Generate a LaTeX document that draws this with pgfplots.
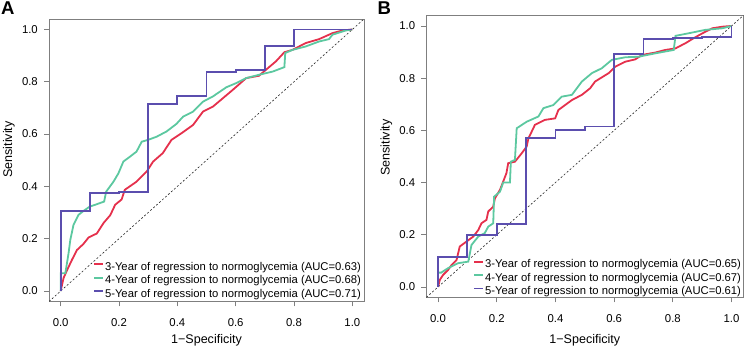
\documentclass[border=0pt]{standalone}
\usepackage{fontspec}
\setmainfont{Liberation Sans}
\usepackage{pgfplots}
\pgfplotsset{compat=1.18}

\definecolor{rocred}{HTML}{E5304C}
\definecolor{rocgreen}{HTML}{5CC8A0}
\definecolor{rocpurple}{HTML}{5B4EAE}
\definecolor{framegray}{HTML}{7F7F7F}

\pgfplotsset{
  rocpanel/.style={
    scale only axis,
    xmin=-0.04, xmax=1.04, ymin=-0.04, ymax=1.04,
    xtick={0,0.2,0.4,0.6,0.8,1}, ytick={0,0.2,0.4,0.6,0.8,1},
    xtick pos=lower, ytick pos=left,
    tick align=outside,
    major tick length=5bp,
    axis line style={framegray, line width=0.8bp},
    tick style={framegray, line width=0.8bp},
    xticklabel={\pgfmathprintnumber[fixed, fixed zerofill, precision=1, assume math mode=true]{\tick}},
    yticklabel={\pgfmathprintnumber[fixed, fixed zerofill, precision=1, assume math mode=true]{\tick}},
    ticklabel style={font=\fontsize{11.4}{13}\selectfont},
    xticklabel style={anchor=north, inner sep=0pt},
    yticklabel style={anchor=east, inner sep=0pt},
    xticklabel shift=11.5bp,
    yticklabel shift=6bp,
    legend cell align=left,
    legend style={draw=none, fill=none, inner sep=0pt, row sep=2.9bp,
      font=\fontsize{11.3}{13}\selectfont,
      nodes={inner xsep=1.5bp, inner ysep=0pt, text height=8bp, text depth=2.5bp}},
    legend image code/.code={\draw[#1, line width=1.8bp] (0bp,3.2bp) -- (8.5bp,3.2bp);},
  },
  roc/.style={line width=1.8bp, line join=miter},
  rocstep/.style={const plot mark right, line width=1.8bp},
}

\begin{document}
\begin{tikzpicture}
\useasboundingbox (0,0) rectangle (744bp,347bp);

% ---------------- Panel A ----------------
\begin{axis}[rocpanel,
  at={(49bp,45.5bp)}, anchor=south west,
  width=315bp, height=282.5bp,
  legend style={at={(axis description cs:0.1397,0.1398)}, anchor=north west}]
\addplot[black!85, line width=0.6bp, dash pattern=on 2bp off 2bp, forget plot]
  coordinates {(-0.04,-0.04) (1.04,1.04)};
\addplot[rocred, roc] table {
0 0
0.010 0.050
0.022 0.080
0.039 0.120
0.056 0.157
0.078 0.180
0.096 0.205
0.124 0.220
0.147 0.260
0.170 0.290
0.187 0.330
0.209 0.350
0.220 0.387
0.260 0.418
0.295 0.457
0.317 0.495
0.350 0.527
0.380 0.578
0.414 0.603
0.454 0.635
0.488 0.686
0.522 0.705
0.556 0.737
0.590 0.769
0.636 0.814
0.680 0.823
0.704 0.846
0.738 0.878
0.767 0.913
0.795 0.922
0.840 0.948
0.886 0.963
0.932 0.986
0.966 0.996
1 1
};
\addlegendentry{3-Year of regression to normoglycemia (AUC=0.63)}
\addplot[rocgreen, roc] table {
0 0
0 0.068
0.016 0.068
0.027 0.144
0.033 0.195
0.044 0.253
0.061 0.291
0.078 0.306
0.100 0.323
0.124 0.332
0.149 0.342
0.156 0.380
0.181 0.418
0.198 0.450
0.215 0.495
0.238 0.514
0.260 0.533
0.278 0.571
0.300 0.578
0.329 0.590
0.363 0.610
0.397 0.639
0.420 0.667
0.454 0.686
0.488 0.724
0.522 0.744
0.568 0.779
0.602 0.795
0.636 0.814
0.681 0.827
0.727 0.839
0.767 0.856
0.770 0.910
0.795 0.922
0.840 0.935
0.886 0.954
0.920 0.963
0.932 0.980
0.977 0.996
1 1
};
\addlegendentry{4-Year of regression to normoglycemia (AUC=0.68)}
\addplot[rocpurple, rocstep] table {
0 0
0.1 0.306
0.2 0.374
0.3 0.379
0.4 0.716
0.5 0.745
0.6 0.837
0.7 0.844
0.8 0.936
1.0 1.0
};
\addlegendentry{5-Year of regression to normoglycemia (AUC=0.71)}
\end{axis}

% ---------------- Panel B ----------------
\begin{axis}[rocpanel,
  at={(426.3bp,49.6bp)}, anchor=south west,
  width=317bp, height=281.9bp,
  legend style={at={(axis description cs:0.148,0.1348)}, anchor=north west}]
\addplot[black!85, line width=0.6bp, dash pattern=on 2bp off 2bp, forget plot]
  coordinates {(-0.04,-0.04) (1.04,1.04)};
\addplot[rocred, roc] table {
0 0
0.006 0.027
0.017 0.046
0.034 0.065
0.046 0.084
0.063 0.103
0.074 0.155
0.097 0.174
0.120 0.193
0.137 0.218
0.148 0.244
0.165 0.257
0.171 0.289
0.188 0.308
0.194 0.340
0.211 0.372
0.222 0.404
0.233 0.436
0.239 0.474
0.262 0.480
0.285 0.512
0.302 0.538
0.308 0.570
0.319 0.595
0.330 0.621
0.364 0.640
0.399 0.646
0.410 0.678
0.433 0.697
0.456 0.716
0.490 0.736
0.518 0.761
0.535 0.787
0.558 0.803
0.581 0.819
0.604 0.844
0.638 0.863
0.672 0.872
0.695 0.889
0.740 0.898
0.774 0.908
0.809 0.914
0.843 0.934
0.877 0.957
0.911 0.978
0.934 0.991
0.968 0.997
1 1
};
\addlegendentry{3-Year of regression to normoglycemia (AUC=0.65)}
\addplot[rocgreen, roc] table {
0 0
0 0.055
0.011 0.055
0.034 0.072
0.068 0.091
0.103 0.097
0.114 0.161
0.137 0.193
0.159 0.206
0.171 0.231
0.188 0.244
0.191 0.346
0.211 0.365
0.222 0.400
0.245 0.400
0.248 0.480
0.262 0.487
0.268 0.608
0.302 0.633
0.342 0.653
0.359 0.685
0.393 0.697
0.421 0.729
0.456 0.736
0.490 0.787
0.524 0.819
0.558 0.838
0.592 0.870
0.638 0.880
0.683 0.882
0.740 0.895
0.803 0.908
0.809 0.962
0.854 0.972
0.911 0.985
0.968 0.991
1 1
};
\addlegendentry{4-Year of regression to normoglycemia (AUC=0.67)}
\addplot[rocpurple, rocstep] table {
0 0
0.1 0.114
0.2 0.200
0.3 0.242
0.4 0.571
0.5 0.600
0.6 0.615
0.7 0.892
0.8 0.949
0.9 0.954
1.0 0.959
1.0 1.0
};
\addlegendentry{5-Year of regression to normoglycemia (AUC=0.61)}
\end{axis}

% axis titles
\begin{scope}[every node/.style={inner sep=0pt, font=\fontsize{12.6}{14}\selectfont}]
\node[anchor=base] at (206.5bp,3.5bp) {1−Specificity};
\node[anchor=base] at (584.8bp,3.5bp) {1−Specificity};
\node[anchor=base, rotate=90] at (12bp,197.5bp) {Sensitivity};
\node[anchor=base, rotate=90] at (389.5bp,199.5bp) {Sensitivity};
\end{scope}

% panel letters
\node[anchor=base west, inner sep=0pt, font=\bfseries\fontsize{18.6}{20}\selectfont] at (1bp,332bp) {A};
\node[anchor=base west, inner sep=0pt, font=\bfseries\fontsize{18.6}{20}\selectfont] at (377.3bp,332bp) {B};
\end{tikzpicture}
\end{document}
